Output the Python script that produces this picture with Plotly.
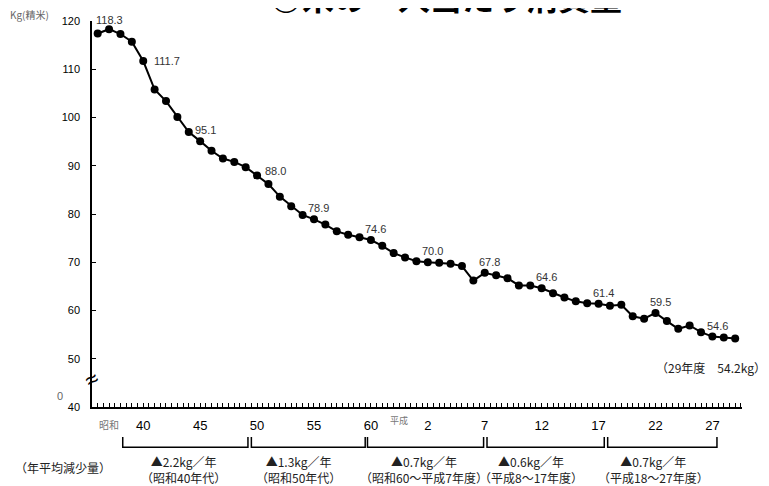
import plotly.graph_objects as go

years = list(range(1961, 2018))
consumption = [
    117.4, 118.3, 117.3, 115.7, 111.7, 105.8, 103.4, 100.1, 97.0, 95.1,
    93.1, 91.5, 90.8, 89.7, 88.0, 86.2, 83.6, 81.6, 79.8, 78.9,
    77.8, 76.4, 75.7, 75.2, 74.6, 73.4, 71.9, 71.0, 70.2, 70.0,
    69.9, 69.7, 69.2, 66.2, 67.8, 67.3, 66.7, 65.2, 65.2, 64.6,
    63.6, 62.7, 61.9, 61.5, 61.4, 61.0, 61.2, 58.8, 58.3, 59.5,
    57.8, 56.2, 56.9, 55.5, 54.6, 54.4, 54.2,
]
label_years = [1962, 1965, 1970, 1975, 1980, 1985, 1990, 1995, 2000, 2005, 2010, 2015]
tick_years = [1965, 1970, 1975, 1980, 1985, 1990, 1995, 2000, 2005, 2010, 2015]
tick_text = ["40", "45", "50", "55", "60", "2", "7", "12", "17", "22", "27"]
period_rates = ["▲2.2kg／年", "▲1.3kg／年", "▲0.7kg／年", "▲0.6kg／年", "▲0.7kg／年"]
period_names = ["（昭和40年代）", "（昭和50年代）", "（昭和60～平成7年度）", "（平成8～17年度）", "（平成18～27年度）"]
period_spans = [(1963.2, 1974.2), (1974.5, 1984.5), (1984.7, 1994.9), (1995.2, 2005.5), (2005.8, 2015.4)]
period_text_x = [1968.5, 1978.6, 1989.7, 1999.1, 2009.8]

FONT = "Liberation Sans, Noto Sans CJK JP, sans-serif"
JFONT = "Noto Sans CJK JP, sans-serif"

fig = go.Figure()
fig.add_trace(go.Scatter(
    x=years, y=consumption, mode="lines+markers",
    line=dict(color="black", width=2),
    marker=dict(color="black", size=8),
    hoverinfo="x+y", showlegend=False,
))

val = dict(zip(years, consumption))
shifts = {1962: (0, 9), 1965: (24, 0), 1975: (18, 4)}
for yr in label_years:
    xs, ys = shifts.get(yr, (5, 11))
    fig.add_annotation(x=yr, y=val[yr], text=f"{val[yr]:.1f}", showarrow=False,
                       xanchor="center", yanchor="middle",
                       xshift=xs, yshift=ys, font=dict(family=FONT, size=11, color="#333333"))

# brackets and period text
for (x0, x1), rate, name, tx in zip(period_spans, period_rates, period_names, period_text_x):
    fig.add_shape(type="path", xref="x", yref="paper",
                  path=f"M {x0} -0.078 L {x0} -0.104 L {x1} -0.104 L {x1} -0.078",
                  line=dict(color="black", width=1.5))
    fig.add_annotation(x=tx, xref="x", y=-0.162, yref="paper", text=f"{rate}<br>{name}",
                       showarrow=False, xanchor="center", yanchor="middle",
                       font=dict(family=JFONT, size=12, color="#222"))

extra_annos = [
    dict(x=-0.0446, xref="paper", y=-0.158, yref="paper", text="（年平均減少量）",
         xanchor="center", yanchor="middle", font=dict(family=JFONT, size=12, color="#222")),
    dict(x=1.04, xref="paper", y=0.1036, yref="paper", text="（29年度　54.2kg）",
         xanchor="right", yanchor="middle", font=dict(family=JFONT, size=12, color="#222")),
    dict(x=-0.129, xref="paper", y=1.018, yref="paper", text="Kg(精米)",
         xanchor="left", yanchor="middle", font=dict(family=JFONT, size=10, color="#666")),
    dict(x=-0.049, xref="paper", y=0.0285, yref="paper", text="0",
         xanchor="center", yanchor="middle", font=dict(family=FONT, size=11, color="#666")),
    dict(x=0, xref="paper", y=0.07, yref="paper", text="≈",
         xanchor="center", yanchor="middle",
         textangle=-30, font=dict(family=FONT, size=22, color="black")),
    dict(x=1962.0, xref="x", y=-0.02, yref="paper", text="昭和",
         xanchor="center", yanchor="top", font=dict(family=JFONT, size=10, color="#777")),
    dict(x=1987.5, xref="x", y=-0.012, yref="paper", text="平成",
         xanchor="center", yanchor="top", font=dict(family=JFONT, size=9, color="#777")),
    dict(x=0.545, xref="paper", y=1.066, yref="paper", text="<b>○米の一人当たり消費量</b>",
         xanchor="center", yanchor="middle", font=dict(family=JFONT, size=32, color="black")),
]
for a in extra_annos:
    fig.add_annotation(showarrow=False, **a)

fig.update_layout(
    width=761, height=478,
    margin=dict(l=84, r=27, t=13, b=79, autoexpand=False),
    plot_bgcolor="white", paper_bgcolor="white",
    font=dict(family=FONT, size=11, color="black"),
    xaxis=dict(range=[1960.5, 2017.6], showgrid=False, zeroline=False, automargin=False,
               showline=True, linecolor="black", linewidth=1.5,
               tickvals=tick_years, ticktext=tick_text, ticks="inside", ticklen=4,
               tickcolor="black", tickfont=dict(family=FONT, size=13, color="black"),
               ticklabelstandoff=6,
               minor=dict(dtick=0.5, tick0=1960.5, ticks="inside", ticklen=4, tickcolor="black")),
    yaxis=dict(range=[40, 120], dtick=10, showgrid=False, zeroline=False, automargin=False,
               showline=True, linecolor="black", linewidth=1.5,
               ticks="inside", ticklen=4, tickcolor="black",
               tickfont=dict(family=FONT, size=11, color="black"), ticklabelstandoff=8),
)

fig.write_html("out.html")
